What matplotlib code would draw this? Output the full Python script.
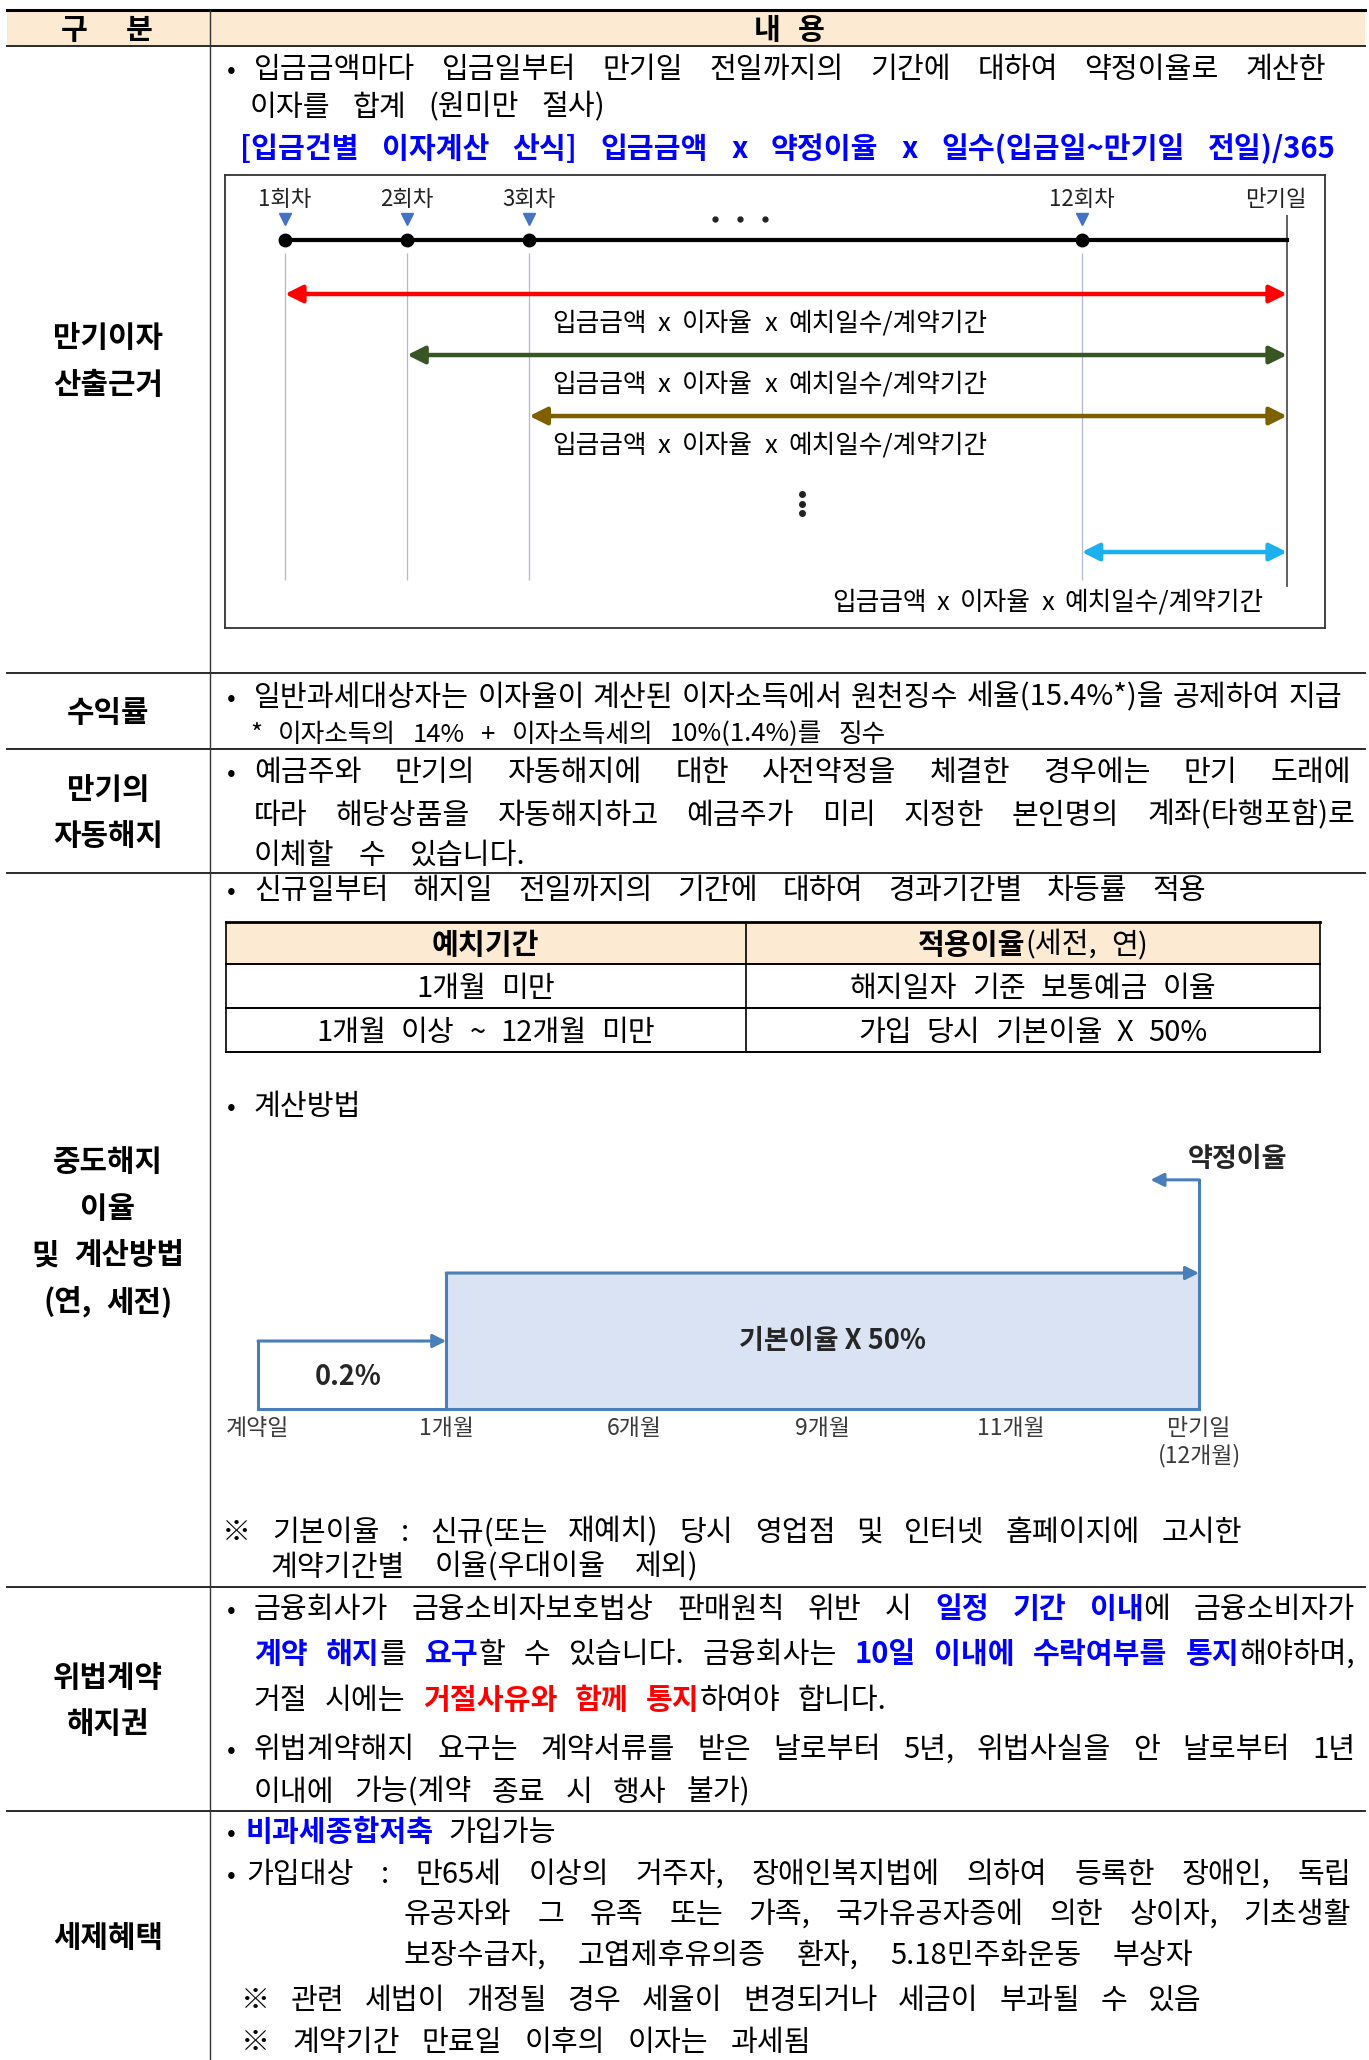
import matplotlib
matplotlib.use('Agg')
import matplotlib.pyplot as plt
from matplotlib.patches import Rectangle

plt.rcParams['font.family'] = ['Noto Sans CJK KR', 'DejaVu Sans']

# ---- table content ----
header = ['구 분', '내 용']
row_labels = [['만기이자', '산출근거'], ['수익률'], ['만기의', '자동해지'],
              ['중도해지', '이율', '및 계산방법', '(연, 세전)'],
              ['위법계약', '해지권'], ['세제혜택']]

# body lines: (y, x0, x1, size, bullet, pieces)  n=normal b=bold B=blue bold R=red bold
body = [
    (67, 254, 1326, 21, True, '입금금액마다 입금일부터 만기일 전일까지의 기간에 대하여 약정이율로 계산한'),
    (105, 250, 605, 21, False, '이자를 합계 (원미만 절사)'),
    (147, 240, 1336, 21, False, [('[입금건별 이자계산 산식] 입금금액 x 약정이율 x 일수(입금일~만기일 전일)/365', 'B')]),
    (695, 254, 1342, 21, True, '일반과세대상자는 이자율이 계산된 이자소득에서 원천징수 세율(15.4%*)을 공제하여 지급'),
    (732, 250, 886, 18.5, False, '* 이자소득의 14% + 이자소득세의 10%(1.4%)를 징수'),
    (770, 254, 1351, 21, True, '예금주와 만기의 자동해지에 대한 사전약정을 체결한 경우에는 만기 도래에'),
    (813, 254, 1355, 21, False, '따라 해당상품을 자동해지하고 예금주가 미리 지정한 본인명의 계좌(타행포함)로'),
    (853, 254, 526, 21, False, '이체할 수 있습니다.'),
    (888, 254, 1206, 21, True, '신규일부터 해지일 전일까지의 기간에 대하여 경과기간별 차등률 적용'),
    (1104, 254, None, 21, True, '계산방법'),
    (1530, 222, 1242, 21, False, '※ 기본이율 : 신규(또는 재예치) 당시 영업점 및 인터넷 홈페이지에 고시한'),
    (1565, 271, 698, 21, False, '계약기간별 이율(우대이율 제외)'),
    (1607, 254, 1355, 21, True, [('금융회사가 금융소비자보호법상 판매원칙 위반 시 ', 'n'), ('일정 기간 이내', 'B'),
                                 ('에 금융소비자가', 'n')]),
    (1652, 254, 1355, 21, False, [('계약 해지', 'B'), ('를 ', 'n'), ('요구', 'B'), ('할 수 있습니다. 금융회사는 ', 'n'),
                                  ('10일 이내에 수락여부를 통지', 'B'), ('해야하며,', 'n')]),
    (1698, 254, 886, 21, False, [('거절 시에는 ', 'n'), ('거절사유와 함께 통지', 'R'), ('하여야 합니다.', 'n')]),
    (1747, 254, 1355, 21, True, '위법계약해지 요구는 계약서류를 받은 날로부터 5년, 위법사실을 안 날로부터 1년'),
    (1790, 254, 750, 21, False, '이내에 가능(계약 종료 시 행사 불가)'),
    (1830, 246, None, 21, True, [('비과세종합저축', 'B'), (' 가입가능', 'n')]),
    (1872, 246, 1351, 21, True, '가입대상 : 만65세 이상의 거주자, 장애인복지법에 의하여 등록한 장애인, 독립'),
    (1912, 404, 1351, 21, False, '유공자와 그 유족 또는 가족, 국가유공자증에 의한 상이자, 기초생활'),
    (1953, 404, 1193, 21, False, '보장수급자, 고엽제후유의증 환자, 5.18민주화운동 부상자'),
    (1998, 241, 1202, 21, False, '※ 관련 세법이 개정될 경우 세율이 변경되거나 세금이 부과될 수 있음'),
    (2040, 241, 811, 21, False, '※ 계약기간 만료일 이후의 이자는 과세됨'),
]

# early termination rate table
rate_header = [[('예치기간', 'b')], [('적용이율', 'b'), ('(세전, 연)', 'n')]]
rate_rows = [['1개월 미만', '해지일자 기준 보통예금 이율'],
             ['1개월 이상 ~ 12개월 미만', '가입 당시 기본이율 X 50%']]

# timeline diagram
deposits = ['1회차', '2회차', '3회차', '12회차']
maturity = '만기일'
formula = '입금금액 x 이자율 x 예치일수/계약기간'
arrow_colors = ['#ff0000', '#385623', '#7f6000', '#1cb0ee']

# step diagram
periods = ['계약일', '1개월', '6개월', '9개월', '11개월', '만기일\n(12개월)']
step_names = ['0.2%', '기본이율 X 50%', '약정이율']
step_levels = [1, 2, 3.37]

# ---- layout ----
W, H = 1369, 2060
row_edges = [46, 673, 749, 873, 1587, 1811, 2060]
COL = 210
STYLE = {'n': ('normal', 'black'), 'b': ('bold', 'black'),
         'B': ('bold', '#0000ff'), 'R': ('bold', '#ff0000')}

fig = plt.figure(figsize=(W / 100, H / 100), dpi=100)
ax = fig.add_axes([0, 0, 1, 1])
ax.set_xlim(0, W)
ax.set_ylim(H, 0)
ax.axis('off')
R = fig.canvas.get_renderer()


def text_w(s, size, weight):
    t = ax.text(0, 0, s, fontsize=size, fontweight=weight)
    w = t.get_window_extent(renderer=R).width
    t.remove()
    return w


def put_line(y, x0, x1, pieces, size=21, align='left', zorder=3):
    if isinstance(pieces, str):
        pieces = [(pieces, 'n')]
    words = [[]]
    for txt, st in pieces:
        for k, part in enumerate(txt.split(' ')):
            if k:
                words.append([])
            if part:
                words[-1].append((part, st))
    words = [w for w in words if w]
    widths = [[text_w(p, size, STYLE[st][0]) for p, st in w] for w in words]
    total = sum(sum(ws) for ws in widths)
    em = size * 100 / 72
    gap = 0.5 * em
    if x1 is not None and len(words) > 1:
        gap = max((x1 - x0 - total) / (len(words) - 1), 0.2 * em)
    if align == 'center':
        x0 = x0 - (total + gap * (len(words) - 1)) / 2
    base = y + 0.37 * em
    x = x0
    for w, ws in zip(words, widths):
        for (p, st), pw in zip(w, ws):
            weight, color = STYLE[st]
            ax.text(x, base, p, fontsize=size, fontweight=weight, color=color,
                    ha='left', va='baseline', zorder=zorder)
            x += pw
        x += gap


# header band and grid
ax.add_patch(Rectangle((7, 10), 1358, row_edges[0] - 10, color='#fcebd2', lw=0))
ax.plot([7, 1365], [9.5, 9.5], color='black', lw=2.2)
for e in row_edges[:-1]:
    ax.plot([7, 1365], [e, e], color='#2a2a2a', lw=1.4)
ax.plot([COL, COL], [10, H], color='#333333', lw=1)

put_line(28, 61, 153, [(header[0], 'b')], size=21)
put_line(28, 754, 825, [(header[1], 'b')], size=21)

for i, lines in enumerate(row_labels):
    mid = (row_edges[i] + row_edges[i + 1]) / 2
    n = len(lines)
    for k, s in enumerate(lines):
        put_line(mid + 46.5 * (k - (n - 1) / 2), 108, None, [(s, 'b')], size=21.5, align='center')

for y, x0, x1, size, bullet, pieces in body:
    if bullet:
        ax.text(231, y + 0.37 * size * 100 / 72, '•', fontsize=size * 0.9, ha='center', va='baseline')
    put_line(y, x0, x1, pieces, size=size)

# rate table
tx = [225.5, 745.6, 1320]
ty = [921.7, 964, 1008, 1052]
ax.add_patch(Rectangle((tx[0], ty[0]), tx[2] - tx[0], ty[1] - ty[0], color='#fcebd2', lw=0))
ax.plot([tx[0], tx[2]], [ty[0], ty[0]], color='black', lw=2)
for yy in ty[1:]:
    ax.plot([tx[0], tx[2]], [yy, yy], color='black', lw=1.4)
for xx in tx:
    ax.plot([xx, xx], [ty[0], ty[-1]], color='black', lw=1.2)
cx = [(tx[0] + tx[1]) / 2, (tx[1] + tx[2]) / 2]
for j, cell in enumerate(rate_header):
    put_line((ty[0] + ty[1]) / 2, cx[j], None, cell, size=21, align='center')
for i, row in enumerate(rate_rows):
    for j, cell in enumerate(row):
        put_line((ty[i + 1] + ty[i + 2]) / 2, cx[j], None, cell, size=21, align='center')

# ---- timeline diagram ----
slot_x = [0, 1, 2, 6.52]
mat_x = 8.2
arrow_rows = [0, 1, 2, 4.23]
d1 = fig.add_axes([225 / W, 1 - 628 / H, 1100 / W, 453 / H])
d1.set_facecolor('none')
d1.set_xlim(-0.491, 8.511)
d1.set_ylim(5.475, -1.951)
d1.set_xticks([])
d1.set_yticks([])
for sp in d1.spines.values():
    sp.set_color('#333333')
    sp.set_linewidth(1.3)

d1.vlines(slot_x, -0.67, 4.69, color='#b3b7d3', lw=0.9)
d1.vlines(mat_x, -1.3, 4.8, color='#444444', lw=1.2)
d1.plot([slot_x[0], mat_x], [-0.885, -0.885], color='black', lw=3)
d1.plot(slot_x, [-0.885] * len(slot_x), 'o', ms=9, color='black')
d1.plot(slot_x, [-1.23] * len(slot_x), 'v', ms=9, color='#4472c4')
for x, lab in zip(slot_x, deposits):
    d1.text(x, -1.557, lab, ha='center', va='center', fontsize=16, color='#222222')
d1.text(mat_x - 0.09, -1.557, maturity, ha='center', va='center', fontsize=16, color='#222222')
d1.plot([3.52, 3.72, 3.93], [-1.23] * 3, 'o', ms=3.5, color='#222222')
d1.plot([4.23] * 3, [3.28, 3.44, 3.59], 'o', ms=4, color='#222222')

for x, r, c in zip(slot_x, arrow_rows, arrow_colors):
    d1.annotate('', xy=(mat_x, r), xytext=(x, r),
                arrowprops=dict(arrowstyle='<|-|>', color=c, lw=3.2, mutation_scale=26,
                                shrinkA=0, shrinkB=0))


def d_to_px(axd, x, y):
    return ax.transData.inverted().transform(axd.transData.transform((x, y)))


formula_spans = [(2.185, 5.753, 0.45), (2.185, 5.753, 0.45), (2.185, 5.753, 0.45), (4.476, 8.01, 0.79)]
for r, (fx0, fx1, dy) in zip(arrow_rows, formula_spans):
    px0, py = d_to_px(d1, fx0, r + dy)
    px1, _ = d_to_px(d1, fx1, r + dy)
    put_line(py, px0, px1, formula, size=18.5)

# ---- step diagram ----
step_c = '#4a7ebb'
d2 = fig.add_axes([220 / W, 1 - 1470 / H, 1110 / W, 320 / H])
d2.set_facecolor('none')
d2.set_xlim(-0.202, 5.696)
d2.set_ylim(-0.897, 3.809)
for s in ['top', 'right', 'left']:
    d2.spines[s].set_visible(False)
d2.spines['bottom'].set_position(('data', 0))
d2.spines['bottom'].set_bounds(0, len(periods) - 1)
d2.spines['bottom'].set_color(step_c)
d2.spines['bottom'].set_linewidth(2.2)
d2.set_yticks([])
d2.set_xticks(range(len(periods)), periods)
d2.tick_params(axis='x', length=0, pad=6, labelsize=16.5, labelcolor='#3a3a3a')

last = len(periods) - 1
d2.fill_between([1, last], 0, step_levels[1], color='#dae3f3', lw=0)
arr = dict(arrowstyle='-|>', color=step_c, lw=2.2, mutation_scale=20, shrinkA=0, shrinkB=0)
d2.plot([0, 0], [0, step_levels[0]], color=step_c, lw=2.2)
d2.annotate('', xy=(1, step_levels[0]), xytext=(0, step_levels[0]), arrowprops=arr)
d2.plot([1, 1], [0, step_levels[1]], color=step_c, lw=2.2)
d2.annotate('', xy=(last, step_levels[1]), xytext=(1, step_levels[1]), arrowprops=arr)
d2.plot([last, last], [0, step_levels[2]], color=step_c, lw=2.2)
d2.annotate('', xy=(last - 0.258, step_levels[2]), xytext=(last, step_levels[2]), arrowprops=arr)

d2.text(0.48, step_levels[0] / 2 - 0.03, step_names[0], ha='center', va='center',
        fontsize=19.5, fontweight='bold', color='#262626')
d2.text(3.05, step_levels[1] / 2, step_names[1], ha='center', va='center',
        fontsize=19.5, fontweight='bold', color='#262626')
d2.text(last + 0.207, step_levels[2] + 0.31, step_names[2], ha='center', va='center',
        fontsize=19.5, fontweight='bold', color='#262626')

fig.savefig('out.png', dpi=100, facecolor='white')
